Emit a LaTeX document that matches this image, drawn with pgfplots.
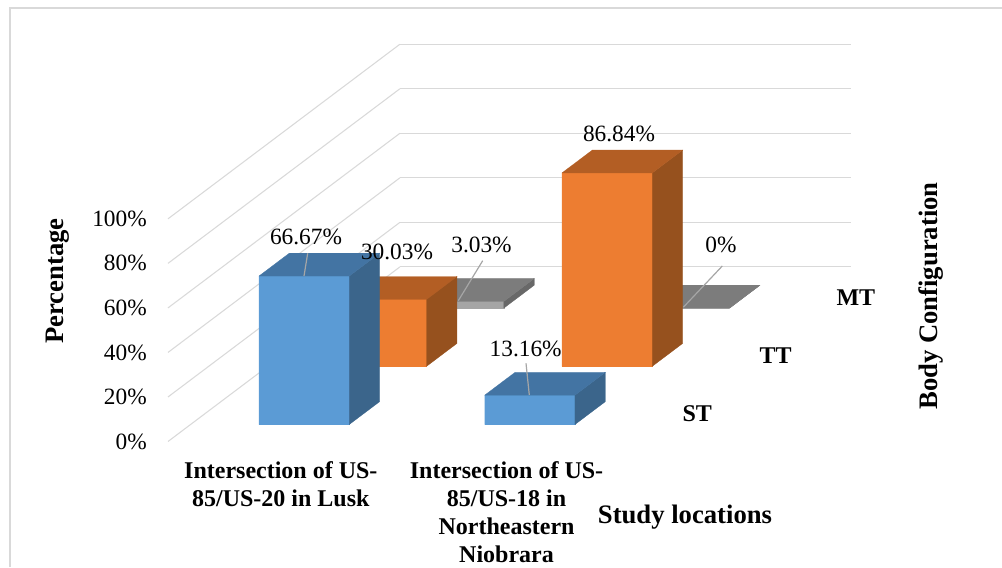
\documentclass[border=0pt]{standalone}
\usepackage{fontspec}
\setmainfont{Liberation Serif}
\usepackage{pgfplots}
\pgfplotsset{compat=1.18}
\definecolor{gridc}{HTML}{D9D9D9}
\definecolor{leader}{HTML}{A6A6A6}
\definecolor{bF}{HTML}{5B9BD5}\definecolor{bT}{HTML}{4374A3}\definecolor{bS}{HTML}{3B658B}
\definecolor{oF}{HTML}{ED7D31}\definecolor{oT}{HTML}{B35E24}\definecolor{oS}{HTML}{96511E}
\definecolor{gF}{HTML}{A5A5A5}\definecolor{gT}{HTML}{7C7C7C}\definecolor{gS}{HTML}{686868}
% x0 x1 y0 y1 height colourstem
\newcommand\cuboid[6]{%
  \addplot3[no marks,fill=#6F,draw=#6F,line width=0.2pt] coordinates {(#1,#3,0)(#2,#3,0)(#2,#3,#5)(#1,#3,#5)(#1,#3,0)};
  \addplot3[no marks,fill=#6S,draw=#6S,line width=0.2pt] coordinates {(#2,#3,0)(#2,#4,0)(#2,#4,#5)(#2,#3,#5)(#2,#3,0)};
  \addplot3[no marks,fill=#6T,draw=#6T,line width=0.2pt] coordinates {(#1,#3,#5)(#2,#3,#5)(#2,#4,#5)(#1,#4,#5)(#1,#3,#5)};
}
\begin{document}
\begin{tikzpicture}
\useasboundingbox (0,0) rectangle (751.5pt,425.25pt);
\draw[gridc,line width=1.1pt] (7.5pt,0pt) -- (7.5pt,419.25pt) -- (751.5pt,419.25pt);
\begin{axis}[
  at={(126pt,94.125pt)}, anchor=origin,
  x={(0.75pt,0pt)}, y={(57.975pt,43.65pt)}, z={(0pt,1.67pt)},
  xmin=0, xmax=451.4, ymin=0, ymax=3, zmin=0, zmax=100,
  clip=false,
  axis line style={draw=none},
  tick style={draw=none},
  grid=major,
  major grid style={gridc,line width=0.8pt},
  xmajorgrids=false, ymajorgrids=false, zmajorgrids=true,
  ztick={0,20,40,60,80,100},
  zticklabel={\pgfmathprintnumber{\tick}\%},
  xtick={112.85,338.55},
  xticklabels={{Intersection of US-\\85/US-20 in Lusk},{Intersection of US-\\85/US-18 in\\Northeastern\\Niobrara}},
  ytick={0.49,1.49,2.49},
  yticklabels={ST,{\hspace{1.5pt}TT},{\hspace{6pt}MT}},
  yticklabel pos=lower,
  /pgf/number format/assume math mode=true,
  z tick label style={font=\fontsize{17.5pt}{21pt}\selectfont,anchor=east,inner sep=0pt,xshift=-15.75pt},
  x tick label style={font=\fontsize{18pt}{21pt}\bfseries\selectfont,align=center,anchor=north,inner sep=0pt,yshift=-14.6pt},
  y tick label style={font=\fontsize{18pt}{21pt}\bfseries\selectfont,anchor=center,inner sep=0pt,xshift=30pt,yshift=-0.75pt},
]
% MT
\cuboid{68.4}{158.7}{2.292}{2.685}{3.03}{g}
\cuboid{294.1}{384.4}{2.292}{2.685}{0}{g}
% TT
\cuboid{68.4}{158.7}{1.292}{1.685}{30.03}{o}
\cuboid{294.1}{384.4}{1.292}{1.685}{86.84}{o}
% ST
\cuboid{68.4}{158.7}{0.292}{0.685}{66.67}{b}
\cuboid{294.1}{384.4}{0.292}{0.685}{13.16}{b}
\end{axis}
\begin{scope}[x=0.75pt,y=-0.75pt,shift={(0pt,425.25pt)}]
  \draw[leader,line width=0.9pt] (304,276)--(307.7,253.3);
  \draw[leader,line width=0.9pt] (458.3,300.7)--(482.7,260.7);
  \draw[leader,line width=0.9pt] (683.3,307.3)--(722.3,266);
  \draw[leader,line width=0.9pt] (529.3,395)--(526,363.3);
  \tikzset{dl/.style={font=\fontsize{17.5pt}{21pt}\selectfont,inner sep=0pt,anchor=center}}
  \node[dl] at (306,236.7) {66.67\%};
  \node[dl] at (397,252.2) {30.03\%};
  \node[dl] at (481.5,244.5) {3.03\%};
  \node[dl] at (619,134) {86.84\%};
  \node[dl] at (721,245.2) {0\%};
  \node[dl] at (525.7,348.5) {13.16\%};
  \tikzset{tt/.style={font=\fontsize{20pt}{24pt}\bfseries\selectfont,inner sep=0pt,anchor=center}}
  \node[tt,rotate=90] at (58,281) {Percentage};
  \node[tt] at (685,517) {Study locations};
  \node[tt,rotate=90] at (931.5,296) {Body Configuration};
\end{scope}
\end{tikzpicture}
\end{document}
